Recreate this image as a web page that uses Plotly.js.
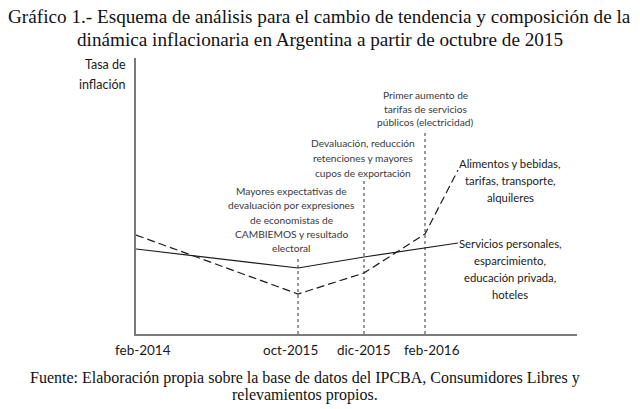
<!DOCTYPE html>
<html>
<head>
<meta charset="utf-8">
<script src="https://cdn.plot.ly/plotly-3.0.1.min.js"></script>
<style>html,body{margin:0;padding:0;background:#fff;}#chart{width:640px;height:409px;}</style>
</head>
<body>
<div id="chart"></div>
<script>
// Schematic positions (arbitrary units along the time axis)
const periods = ['feb-2014', 'oct-2015', 'dic-2015', 'feb-2016', 'fin'];
const periodPos = [0, 162, 228, 289, 322];
// Schematic inflation levels (arbitrary units)
const serviciosY = [85, 66, 77, 86, 91];
const alimentosY = [99, 40, 61, 100, 164];
// Event markers (vertical dashed lines)
const eventPos = [162, 228, 289];
const eventTop = [78, 156, 204];
const eventText = [
  ['Mayores expectativas de', 'devaluación por expresiones', 'de economistas de', 'CAMBIEMOS y resultado', 'electoral'],
  ['Devaluación, reducción', 'retenciones y mayores', 'cupos de exportación'],
  ['Primer aumento de', 'tarifas de servicios', 'públicos (electricidad)']
];
const eventLabelX = [155, 227, 289];
const eventLabelY = [114.5, 176, 225.5];
const eventLineGap = [14.2, 15, 13.5];
const tickLabels = ['feb-2014', 'oct-2015', 'dic-2015', 'feb-2016'];
const tickShift = [7, -8, -1, 7];
const seriesLabels = [
  ['Servicios personales,', 'esparcimiento,', 'educación privada,', 'hoteles'],
  ['Alimentos y bebidas,', 'tarifas, transporte,', 'alquileres']
];
const seriesLabelX = [374, 374];
const seriesLabelY = [65.5, 154];
const titleLines = ['Gráfico 1.- Esquema de análisis para el cambio de tendencia y composición de la',
                    'dinámica inflacionaria en Argentina a partir de octubre de 2015'];
const sourceLines = ['Fuente: Elaboración propia sobre la base de datos del IPCBA, Consumidores Libres y',
                     'relevamientos propios.'];

const traces = [];
eventPos.forEach((x, i) => {
  traces.push({x: [x, x], y: [0, eventTop[i]], mode: 'lines', type: 'scatter',
    line: {color: '#333', width: 1, dash: '3px,3px'}, hoverinfo: 'skip', showlegend: false});
});
traces.push({x: periodPos, y: serviciosY, mode: 'lines', type: 'scatter',
  line: {color: '#1a1a1a', width: 1.2}, showlegend: false});
traces.push({x: periodPos, y: alimentosY, mode: 'lines', type: 'scatter',
  line: {color: '#1a1a1a', width: 1.2, dash: '8px,4px'}, showlegend: false});

const annotations = [];
function block(lines, x, y, gap, xref, yref, font, xanchor, align) {
  const n = lines.length;
  lines.forEach((t, k) => {
    annotations.push({x: x, y: y, xref: xref, yref: yref, text: t, showarrow: false,
      xanchor: xanchor || 'center', yanchor: 'middle', align: align || 'center',
      yshift: ((n - 1) / 2 - k) * gap, font: font});
  });
}
eventText.forEach((t, i) => block(t, eventLabelX[i], eventLabelY[i], eventLineGap[i], 'x', 'y',
  {family: 'Lato', size: 10.2, color: '#3a3a3a'}));
seriesLabels.forEach((t, i) => block(t, seriesLabelX[i], seriesLabelY[i], 17, 'x', 'y',
  {family: 'Lato', size: 11.3, color: '#1a1a1a'}));
tickLabels.forEach((t, i) => annotations.push({x: periodPos[i], y: 0, xref: 'x', yref: 'y',
  text: t, showarrow: false, xanchor: 'center', yanchor: 'middle', xshift: tickShift[i], yshift: -16,
  font: {family: 'Lato', size: 13.5, color: '#1a1a1a'}}));
block(['Tasa de', 'inflación'], -0.018, 0.942, 20, 'paper', 'paper',
  {family: 'Lato', size: 12.5, color: '#1a1a1a'}, 'right', 'right');
block(titleLines, 0.417, 1.107, 23, 'paper', 'paper',
  {family: 'Liberation Serif', size: 19.2, color: '#111'});
block(sourceLines, 0.383, -0.19, 17, 'paper', 'paper',
  {family: 'Liberation Serif', size: 16, color: '#111'});

const layout = {
  width: 640, height: 409,
  margin: {l: 136, r: 63, t: 58, b: 75, pad: 0},
  paper_bgcolor: '#fff', plot_bgcolor: '#fff',
  xaxis: {range: [0, 441], showgrid: false, zeroline: false, showticklabels: false, ticks: '',
    showline: true, linecolor: '#7a7a7a', linewidth: 2, fixedrange: true},
  yaxis: {range: [0, 276], showgrid: false, zeroline: false, showticklabels: false, ticks: '',
    showline: true, linecolor: '#7a7a7a', linewidth: 2, fixedrange: true},
  annotations: annotations,
  showlegend: false
};
Plotly.newPlot('chart', traces, layout, {displayModeBar: false, staticPlot: true});
</script>
</body>
</html>
